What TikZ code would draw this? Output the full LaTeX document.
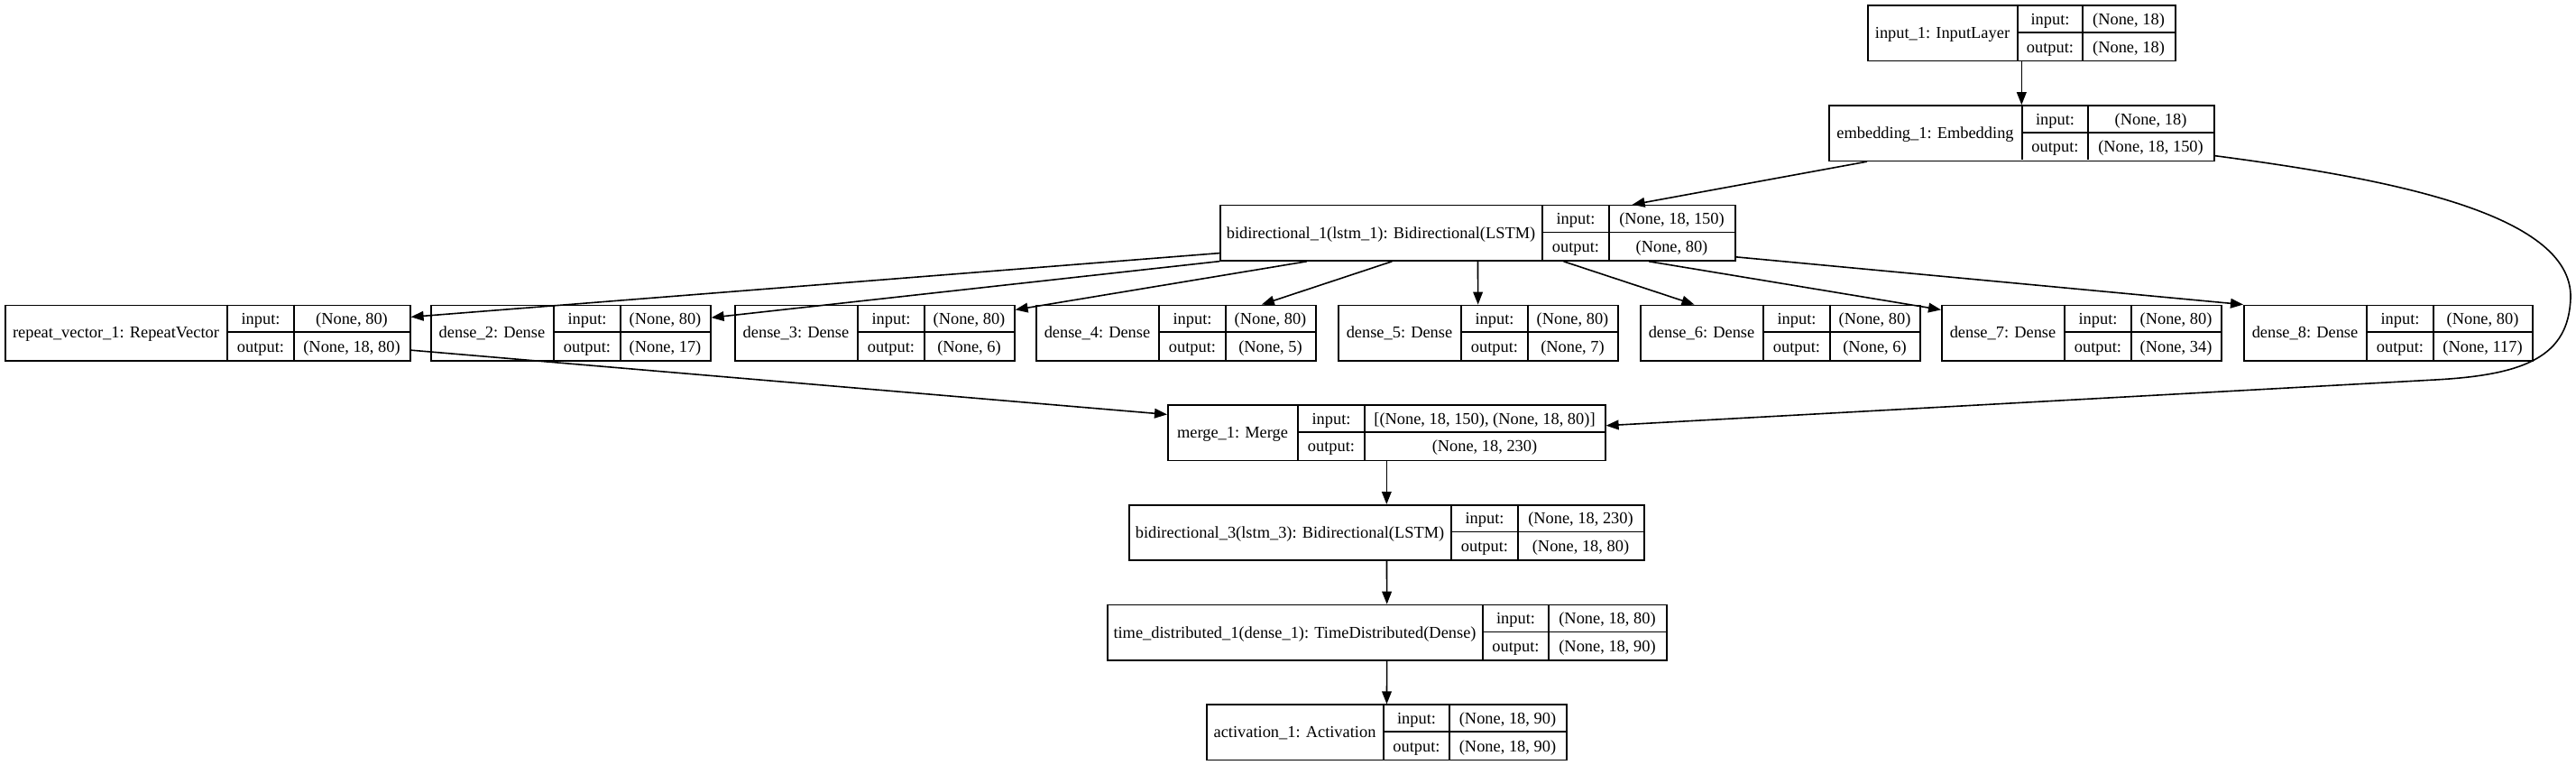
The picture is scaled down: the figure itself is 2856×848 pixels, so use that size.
\documentclass[tikz,border=0pt]{standalone}
\usepackage{fontspec}
\setmainfont{Liberation Serif}
\usetikzlibrary{arrows.meta,calc}
\newcommand\layerbox[9]{%
  \node[rec, minimum width={(#5-#2)*0.75pt}] (#1) at (#2,#6) {};
  \draw[sep] (#3,#6) -- (#3,#6+61.3);
  \draw[sep] (#4,#6) -- (#4,#6+61.3);
  \draw[sep] (#3,#6+30.65) -- (#5,#6+30.65);
  \node[txt] (#1-name) at ({(#2+#3)/2},#6+37.3) {#7};
  \node[txt] (#1-il) at ({(#3+#4)/2},#6+21.9) {input:};
  \node[txt] (#1-ol) at ({(#3+#4)/2},#6+52.6) {output:};
  \node[txt] (#1-iv) at ({(#4+#5)/2},#6+21.9) {#8};
  \node[txt] (#1-ov) at ({(#4+#5)/2},#6+52.6) {#9};
}
\begin{document}
\begin{tikzpicture}[x=0.75pt,y=-0.75pt,
  rec/.style={draw, line width=1.2pt, rectangle, inner sep=0pt, anchor=north west, minimum height=46pt},
  txt/.style={inner sep=0pt, anchor=base, font=\fontsize{13.8pt}{16pt}\selectfont},
  sep/.style={line width=1.2pt},
  edge/.style={line width=1.2pt, -{Triangle[length=10.5pt,width=8pt]}}]
\fill[white] (0,0) rectangle (2856,848);
\useasboundingbox (0,0) rectangle (2856,848);

\layerbox{in1}{2070}{2237}{2309}{2411}{5.5}{input\_1: InputLayer}{(None, 18)}{(None, 18)}
\layerbox{emb}{2027}{2242}{2315}{2454}{116.2}{embedding\_1: Embedding}{(None, 18)}{(None, 18, 150)}
\layerbox{bi1}{1352}{1710}{1784}{1923}{226.9}{bidirectional\_1(lstm\_1): Bidirectional(LSTM)}{(None, 18, 150)}{(None, 80)}

\layerbox{rep}{5}{252}{326}{454}{337.6}{repeat\_vector\_1: RepeatVector}{(None, 80)}{(None, 18, 80)}
\layerbox{d2}{477}{614}{688}{787}{337.6}{dense\_2: Dense}{(None, 80)}{(None, 17)}
\layerbox{d3}{814}{951}{1025}{1124}{337.6}{dense\_3: Dense}{(None, 80)}{(None, 6)}
\layerbox{d4}{1148}{1285}{1359}{1458}{337.6}{dense\_4: Dense}{(None, 80)}{(None, 5)}
\layerbox{d5}{1483}{1620}{1694}{1793}{337.6}{dense\_5: Dense}{(None, 80)}{(None, 7)}
\layerbox{d6}{1818}{1955}{2029}{2128}{337.6}{dense\_6: Dense}{(None, 80)}{(None, 6)}
\layerbox{d7}{2152}{2289}{2363}{2462}{337.6}{dense\_7: Dense}{(None, 80)}{(None, 34)}
\layerbox{d8}{2487}{2624}{2698}{2807}{337.6}{dense\_8: Dense}{(None, 80)}{(None, 117)}

\layerbox{merge}{1294}{1439}{1513}{1779}{448.3}{merge\_1: Merge}{[(None, 18, 150), (None, 18, 80)]}{(None, 18, 230)}
\layerbox{bi3}{1251}{1609}{1683}{1822}{559.0}{bidirectional\_3(lstm\_3): Bidirectional(LSTM)}{(None, 18, 230)}{(None, 18, 80)}
\layerbox{td}{1227}{1644}{1717}{1847}{669.7}{time\_distributed\_1(dense\_1): TimeDistributed(Dense)}{(None, 18, 80)}{(None, 18, 90)}
\layerbox{act}{1337}{1534}{1607}{1736}{780.4}{activation\_1: Activation}{(None, 18, 90)}{(None, 18, 90)}

\draw[edge] (in1) -- (emb);
\draw[edge] (emb) -- (bi1);
\foreach \t in {rep,d2,d3,d4,d5,d6,d7} \draw[edge] (bi1) -- (\t);
\draw[edge] (bi1) -- (d8.north west);
\draw[edge] (rep) -- (merge);
\coordinate (cA) at (2850,330);
\coordinate (cB) at (2700,421);
\draw[edge] ($(emb.east)+(0,25)$) .. controls (2640,197) and (2852,235) .. (cA)
  .. controls (2848,395) and (2800,415.5) .. (cB) -- ($(merge.east)+(0,-8)$);
\draw[edge] (merge) -- (bi3);
\draw[edge] (bi3) -- (td);
\draw[edge] (td) -- (act);
\end{tikzpicture}
\end{document}
